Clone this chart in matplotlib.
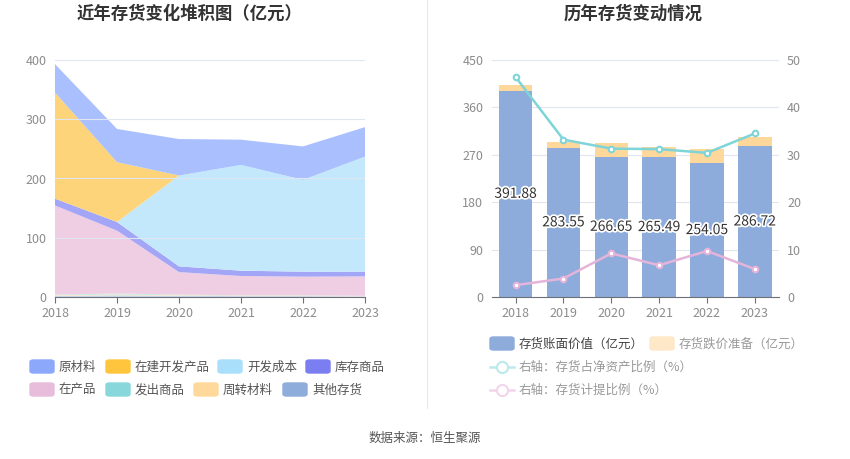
import matplotlib
matplotlib.use("Agg")
import matplotlib.pyplot as plt
import matplotlib.patheffects as pe
from matplotlib.patches import FancyBboxPatch
from matplotlib.lines import Line2D

plt.rcParams['font.family'] = ['Noto Sans CJK SC', 'DejaVu Sans']

years = ["2018", "2019", "2020", "2021", "2022", "2023"]

# left chart: stacked inventory components (亿元), bottom to top
qita = [2.0, 3.0, 2.0, 1.5, 1.5, 1.0]
zhouzhuan = [1.0, 1.5, 1.0, 1.0, 1.0, 0.5]
fachu = [1.0, 1.5, 1.0, 0.5, 0.5, 0.5]
zaichan = [150.5, 106.0, 38.0, 32.4, 31.3, 32.8]
kucun = [11.5, 14.6, 9.7, 9.0, 8.4, 7.9]
kaifa = [0.0, 0.0, 153.3, 178.6, 155.1, 194.3]
zaijian = [179.0, 101.0, 0.0, 0.0, 0.0, 0.0]
yuancai = [48.0, 56.0, 61.6, 42.5, 56.3, 49.7]

# right chart
book_value = [391.88, 283.55, 266.65, 265.49, 254.05, 286.72]
impairment = [10.7, 11.7, 26.6, 19.6, 27.9, 18.0]
ratio_net_assets = [46.4, 33.2, 31.3, 31.2, 30.4, 34.5]
ratio_provision = [2.5, 3.9, 9.2, 6.7, 9.7, 5.9]

legend_left = ["原材料", "在建开发产品", "开发成本", "库存商品",
               "在产品", "发出商品", "周转材料", "其他存货"]
legend_colors = ["#8CA8FB", "#FFC53D", "#A9DFFA", "#7A7EF0",
                 "#E8BCDB", "#88D7DA", "#FFD99B", "#8EADDB"]

grid_c = "#E0E6F1"
tick_c = "#8C8C8C"

fig = plt.figure(figsize=(8.5, 4.59), dpi=100)


def swatch(px, py, color):
    # rounded legend patch centred vertically on py (pixel coords from top)
    fig.add_artist(FancyBboxPatch((px / 850, 1 - (py + 6) / 459), 24 / 850, 13 / 459,
                                  boxstyle="round,pad=0,rounding_size=0.004",
                                  color=color, transform=fig.transFigure))


# ---------- left: stacked area ----------
ax = fig.add_axes([55 / 850, 1 - 297 / 459, 310 / 850, 237 / 459])
x = list(range(len(years)))
series = [qita, zhouzhuan, fachu, zaichan, kucun, kaifa, zaijian, yuancai]
fills = ["#C9D7EE", "#FFE4BE", "#B9E6E8", "#EFCDE3", "#A3A6F6",
         "#C3E8FB", "#FED47A", "#A9BFFE"]
ax.stackplot(x, *series, colors=fills, linewidth=0)
ax.set_xlim(0, 5)
ax.set_ylim(0, 400)
ax.set_yticks([0, 100, 200, 300, 400])
ax.set_xticks(x)
ax.set_xticklabels(years)
ax.grid(axis="y", color=grid_c, lw=0.8)
ax.set_axisbelow(False)
for s in ["top", "right", "left"]:
    ax.spines[s].set_visible(False)
ax.spines["bottom"].set_color("#6E7079")
ax.tick_params(axis="y", length=0, colors=tick_c, labelsize=9, pad=6)
ax.tick_params(axis="x", length=4, color="#6E7079", colors=tick_c, labelsize=9)

# ---------- right: bars + lines ----------
bx = fig.add_axes([491.7 / 850, 1 - 297 / 459, 287 / 850, 237 / 459])
bx.bar(x, book_value, width=0.7, color="#8DACDB", zorder=2)
bx.bar(x, impairment, width=0.7, bottom=book_value, color="#FDD89A", zorder=2)
for i, v in enumerate(book_value):
    bx.text(i, v / 2, f"{v:.2f}", ha="center", va="center", fontsize=10,
            color="#333333", zorder=5,
            path_effects=[pe.withStroke(linewidth=2.5, foreground="white")])
bx.set_xlim(-0.5, 5.5)
bx.set_ylim(0, 450)
bx.set_yticks([0, 90, 180, 270, 360, 450])
bx.set_xticks(x)
bx.set_xticklabels(years)
bx.grid(axis="y", color=grid_c, lw=0.8, zorder=0)
bx.set_axisbelow(True)
for s in ["top", "right", "left"]:
    bx.spines[s].set_visible(False)
bx.spines["bottom"].set_color("#6E7079")
bx.tick_params(axis="y", length=0, colors=tick_c, labelsize=9, pad=6)
bx.tick_params(axis="x", length=4, color="#6E7079", colors=tick_c, labelsize=9)

rx = bx.twinx()
rx.set_ylim(0, 50)
rx.set_yticks([0, 10, 20, 30, 40, 50])
for s in ["top", "right", "left", "bottom"]:
    rx.spines[s].set_visible(False)
rx.tick_params(axis="y", length=0, colors=tick_c, labelsize=9, pad=6)
rx.plot(x, ratio_net_assets, color="#7FD4D8", lw=1.8, marker="o", ms=4,
        mfc="white", mec="#7FD4D8", mew=1.5, zorder=4)
rx.plot(x, ratio_provision, color="#E5B4DA", lw=1.8, marker="o", ms=4,
        mfc="white", mec="#E5B4DA", mew=1.5, zorder=4)

# ---------- titles, divider, source ----------
fig.text(190 / 850, 1 - 14 / 459, "近年存货变化堆积图（亿元）", ha="center",
         va="center", fontsize=12.5, fontweight="bold", color="#333333")
fig.text(633 / 850, 1 - 14 / 459, "历年存货变动情况", ha="center",
         va="center", fontsize=12.5, fontweight="bold", color="#333333")
fig.add_artist(Line2D([427 / 850, 427 / 850], [1 - 408 / 459, 1.0],
                      color="#E8E8E8", lw=0.8))
fig.text(425 / 850, 1 - 438 / 459, "数据来源：恒生聚源", ha="center",
         va="center", fontsize=9, color="#555555")

# ---------- left legend ----------
pos_left = [(30, 367), (106, 367), (218, 367), (306, 367),
            (30, 390), (106, 390), (194, 390), (283, 390)]
for (px, py), lab, c in zip(pos_left, legend_left, legend_colors):
    swatch(px, py, c)
    fig.text((px + 29) / 850, 1 - py / 459, lab, ha="left", va="center",
             fontsize=9, color="#555555")

# ---------- right legend ----------
swatch(490, 344, "#8DACDB")
fig.text(519 / 850, 1 - 344 / 459, "存货账面价值（亿元）", ha="left",
         va="center", fontsize=9, color="#444444")
swatch(650, 344, "#FEE8C8")
fig.text(679 / 850, 1 - 344 / 459, "存货跌价准备（亿元）", ha="left",
         va="center", fontsize=9, color="#999999")
for py, c, lab in [(367, "#BCE9EC", "右轴：存货占净资产比例（%）"),
                   (390, "#F2D5EB", "右轴：存货计提比例（%）")]:
    fig.add_artist(Line2D([490 / 850, 514 / 850], [1 - py / 459] * 2,
                          color=c, lw=1.8))
    fig.add_artist(Line2D([502 / 850], [1 - py / 459], marker="o", ms=8,
                          mfc="white", mec=c, mew=1.5, color=c))
    fig.text(519 / 850, 1 - py / 459, lab, ha="left", va="center",
             fontsize=9, color="#999999")

fig.savefig("out.png", dpi=100)
